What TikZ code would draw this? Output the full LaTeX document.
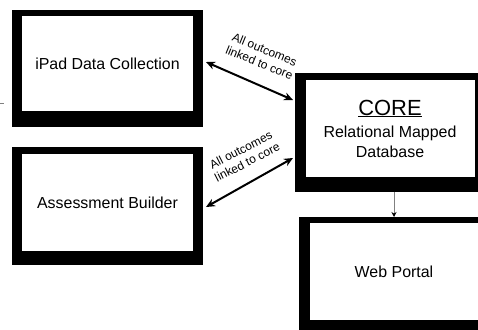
\documentclass[tikz,border=0pt]{standalone}
\usepackage{fontspec}
\setmainfont{Liberation Sans}
\usetikzlibrary{arrows.meta,calc}
\begin{document}
\begin{tikzpicture}[x=1bp,y=-1bp,
  outerbox/.style={rectangle,fill=black,draw=none,inner sep=0,outer sep=0},
  innerbox/.style={rectangle,fill=white,draw=none,inner sep=0,outer sep=0,font=\fontsize{16}{19}\selectfont},
  link/.style={line width=2bp,{Stealth[length=9bp,width=8bp]}-{Stealth[length=9bp,width=8bp]}},
  linklabel/.style={align=center,inner sep=0,font=\fontsize{12}{14}\selectfont},
  feed/.style={draw=black!50,line width=1bp,-{Stealth[length=5bp,width=5bp,black]}}]
\clip (0,0) rectangle (478,329);
\fill[white] (0,0) rectangle (478,329);
% iPad box
\node[outerbox,minimum width=191bp,minimum height=117bp] (ipadO) at (107.5,68.5) {};
\node[innerbox,minimum width=171bp,minimum height=95bp] (ipad) at (107.5,63.5) {iPad Data Collection};
% Assessment box
\node[outerbox,minimum width=191bp,minimum height=118bp] (assessO) at (107.5,206) {};
\node[innerbox,minimum width=171bp,minimum height=97bp] (assess) at (107.5,202.5) {Assessment Builder};
% CORE box
\node[outerbox,minimum width=185bp,minimum height=119bp] (coreO) at (387.5,132.5) {};
\node[innerbox,minimum width=169bp,minimum height=97bp] (core) at (390.5,128.5) {};
\node[anchor=base,inner sep=0,font=\fontsize{22}{22}\selectfont] (coreT) at (390,115) {\underline{CORE}};
\node[anchor=base,inner sep=0,font=\fontsize{16}{19}\selectfont] (coreT2) at (390,137) {Relational Mapped};
\node[anchor=base,inner sep=0,font=\fontsize{16}{19}\selectfont] (coreT3) at (390,157) {Database};
% Web Portal box
\node[outerbox,minimum width=190bp,minimum height=118bp] (webO) at (394,276) {};
\node[innerbox,minimum width=168bp,minimum height=97bp] (web) at (394,271.5) {Web Portal};
% stray stub
\coordinate (stubA) at (0,103);
\coordinate (stubB) at (4,103);
\draw[black!50,line width=0.8bp] (stubA) -- (stubB);
% links
\draw[link] ([shift={(3,52)}]ipadO.north east) -- ([shift={(-2,27)}]coreO.north west);
\draw[link] ([shift={(3,60)}]assessO.north east) -- ([shift={(-2,85)}]coreO.north west);
\node[linklabel,rotate=-22] (lab1) at (262,56) {All outcomes\\linked to core};
\node[linklabel,rotate=27] (lab2) at (244,156) {All outcomes\\linked to core};
% core to web
\draw[feed] (webO.north |- coreO.south) -- (webO.north);
\end{tikzpicture}
\end{document}
